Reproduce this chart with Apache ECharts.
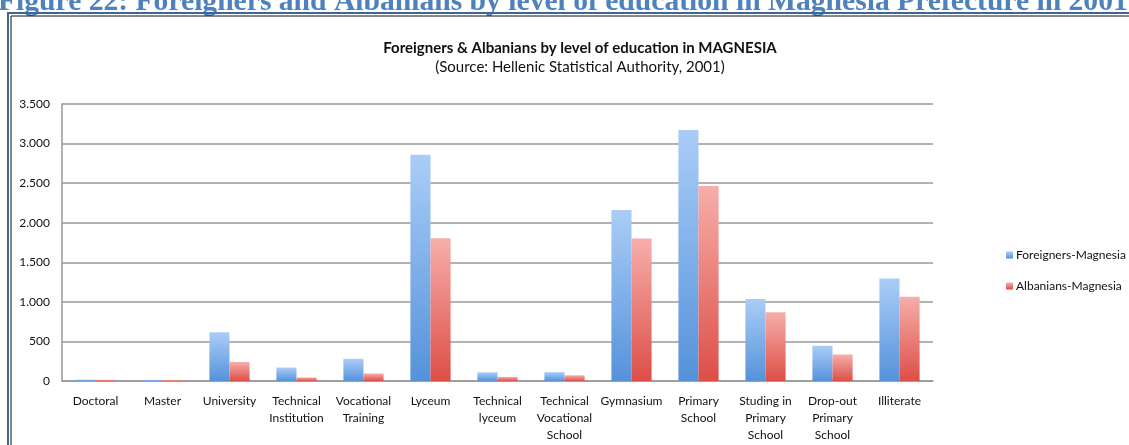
<!DOCTYPE html>
<html lang="en">
<head>
    <meta charset="UTF-8">
    <title>Foreigners & Albanians by level of education in MAGNESIA</title>
    <script src="https://cdn.jsdelivr.net/npm/echarts@6.0.0/dist/echarts.min.js"></script>
    <style>
        html, body { margin: 0; padding: 0; background: #fff; }
        #main { width: 1129px; height: 445px; }
    </style>
</head>
<body>
    <div id="main"></div>

    <script>
        // data
        var categories = ['Doctoral', 'Master', 'University', 'Technical\nInstitution', 'Vocational\nTraining',
            'Lyceum', 'Technical\nlyceum', 'Technical\nVocational\nSchool', 'Gymnasium', 'Primary\nSchool',
            'Studing in\nPrimary\nSchool', 'Drop-out\nPrimary\nSchool', 'Illiterate'];
        var foreigners = [18, 15, 615, 170, 280, 2860, 110, 112, 2160, 3170, 1035, 445, 1295];
        var albanians = [15, 12, 240, 45, 95, 1805, 52, 72, 1800, 2465, 870, 335, 1065];
        var yTicks = [0, 500, 1000, 1500, 2000, 2500, 3000, 3500];

        var font = 'Lato, "Open Sans", sans-serif';

        function grad(top, bottom) {
            return {
                type: 'linear', x: 0, y: 0, x2: 0, y2: 1,
                colorStops: [{ offset: 0, color: top }, { offset: 1, color: bottom }]
            };
        }

        var chart = echarts.init(document.getElementById('main'));

        chart.setOption({
            animation: false,
            textStyle: { fontFamily: font },
            title: {
                text: 'Foreigners & Albanians by level of education in MAGNESIA',
                subtext: '(Source: Hellenic Statistical Authority, 2001)',
                left: 575,
                textAlign: 'center',
                top: 36,
                itemGap: 4,
                textStyle: { fontFamily: font, fontSize: 15, fontWeight: 'bold', color: '#111' },
                subtextStyle: { fontFamily: font, fontSize: 15, color: '#111' }
            },
            legend: {
                orient: 'vertical',
                left: 1001,
                top: 244,
                itemWidth: 7,
                itemHeight: 7,
                itemGap: 19,
                icon: 'rect',
                textStyle: { fontFamily: font, fontSize: 12, color: '#111', padding: [0, 0, 0, -2] },
                data: ['Foreigners-Magnesia', 'Albanians-Magnesia']
            },
            grid: { left: 62, right: 196, top: 104, bottom: 64 },
            xAxis: {
                type: 'category',
                data: categories,
                axisLine: { lineStyle: { color: '#999', width: 1.5 } },
                axisTick: { show: false },
                axisLabel: {
                    interval: 0, color: '#111', fontSize: 12, lineHeight: 17, margin: 12
                }
            },
            yAxis: {
                type: 'value',
                min: yTicks[0],
                max: yTicks[yTicks.length - 1],
                interval: 500,
                axisLine: { show: true, lineStyle: { color: '#999', width: 1.5 } },
                axisTick: { show: false },
                splitLine: { lineStyle: { color: '#999', width: 1.5 } },
                axisLabel: {
                    color: '#111', fontSize: 12, margin: 12,
                    formatter: function (v) {
                        return String(v).replace(/\B(?=(\d{3})+(?!\d))/g, '.');
                    }
                }
            },
            series: [
                {
                    name: 'Foreigners-Magnesia',
                    type: 'bar',
                    data: foreigners,
                    barGap: '0%',
                    barCategoryGap: '40%',
                    itemStyle: { color: grad('#aacdf7', '#5592db') }
                },
                {
                    name: 'Albanians-Magnesia',
                    type: 'bar',
                    data: albanians,
                    itemStyle: { color: grad('#f7aeaa', '#dd4e47') }
                }
            ],
            graphic: [
                {
                    type: 'text',
                    left: -2,
                    top: -13,
                    style: {
                        text: 'Figure 22: Foreigners and Albanians by level of education in Magnesia Prefecture in 2001',
                        font: 'bold 29.6px "Liberation Serif", serif',
                        fill: '#4f81bd'
                    }
                },
                { type: 'rect', shape: { x: 8, y: 13, width: 1130, height: 500 }, style: { fill: 'none', stroke: '#3b679b', lineWidth: 2 }, silent: true },
                { type: 'rect', shape: { x: 11, y: 16, width: 1130, height: 500 }, style: { fill: 'none', stroke: '#111', lineWidth: 1 }, silent: true }
            ]
        });
    </script>
</body>
</html>
